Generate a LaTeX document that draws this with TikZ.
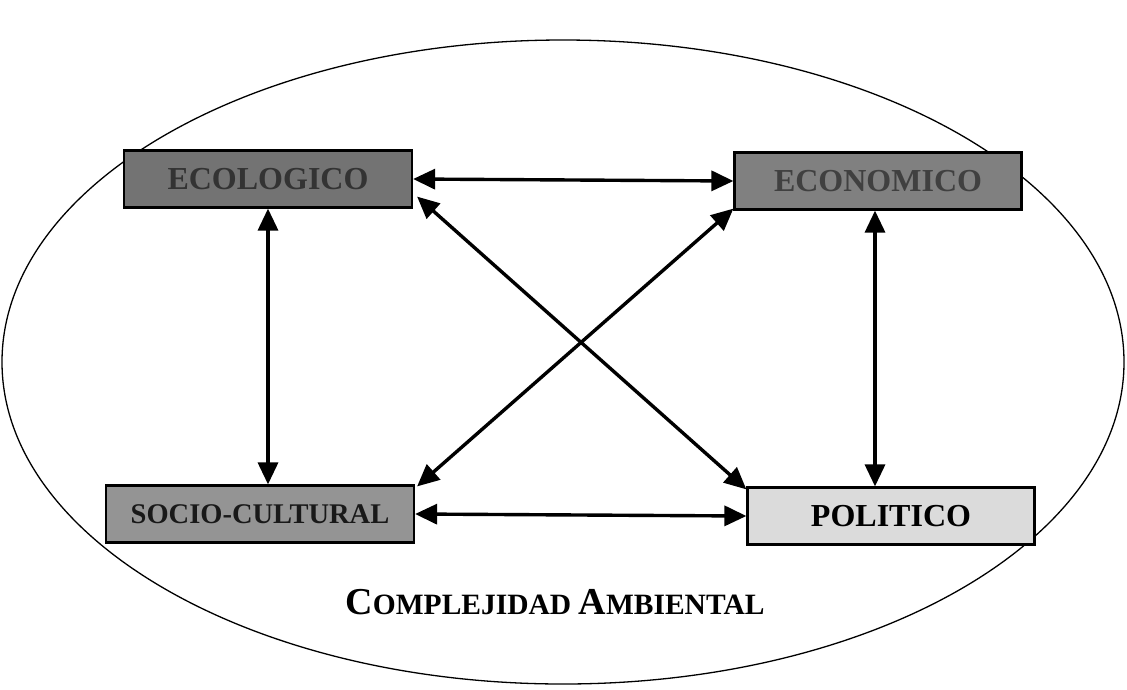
\documentclass[tikz,border=0pt]{standalone}
\usepackage{fontspec}
\setmainfont{Liberation Serif}
\usetikzlibrary{arrows.meta}
\begin{document}
\begin{tikzpicture}[x=1pt,y=-1pt,
  box/.style={draw=black,line width=2.2pt,minimum width=#1,minimum height=57pt,inner sep=0pt,
    font=\fontsize{32}{33}\selectfont\bfseries},
  link/.style={{Triangle[length=22pt,width=20pt]}-{Triangle[length=22pt,width=20pt]},line width=3.4pt}]
\useasboundingbox (0,0) rectangle (1127,689);
\draw[line width=1.3pt] (563,362) ellipse [x radius=561, y radius=322];
\node[box=288pt,fill=black!55,text=black!80] (eco) at (268,179) {ECOLOGICO};
\node[box=287pt,fill=black!50,text=black!75] (econ) at (878,181) {ECONOMICO};
\node[box=308pt,fill=black!42,text=black!90,font=\fontsize{28.5}{30}\selectfont\bfseries] (soc) at (260,514) {SOCIO-CULTURAL};
\node[box=287pt,fill=black!14] (pol) at (891,516) {POLITICO};
\draw[link] (eco.east) -- (econ.west);
\draw[link] (soc.east) -- (pol.west);
\draw[link] (eco.south) -- (eco.south |- soc.north);
\draw[link] (econ.south -| 875,0) -- (875,0 |- pol.north);
\draw[link] ([xshift=4pt,yshift=12pt]eco.south east) -- ([yshift=-3pt]pol.north west);
\draw[link] ([yshift=2pt]econ.south west) -- ([xshift=2pt,yshift=-2pt]soc.north east);
\node[font=\bfseries] (title) at (555,602) {\fontsize{38}{39}\selectfont C\fontsize{29.5}{30}\selectfont OMPLEJIDAD \fontsize{38}{39}\selectfont A\fontsize{29.5}{30}\selectfont MBIENTAL};
\end{tikzpicture}
\end{document}
